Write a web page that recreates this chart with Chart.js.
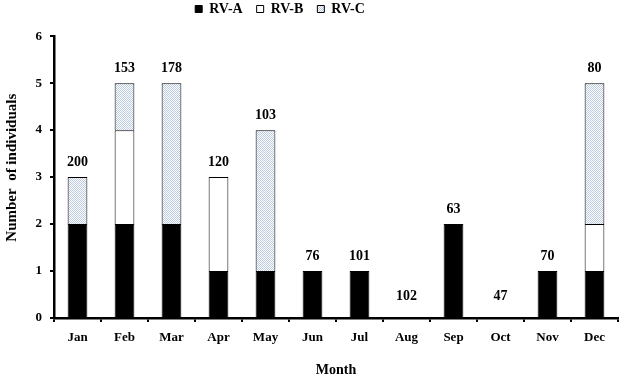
<!DOCTYPE html>
<html>
<head>
<meta charset="utf-8">
<script src="https://cdn.jsdelivr.net/npm/chart.js@4/dist/chart.umd.min.js"></script>
<style>
html,body{margin:0;padding:0;background:#fff;}
#wrap{width:623px;height:379px;position:relative;}
</style>
</head>
<body>
<div id="wrap"><canvas id="c"></canvas></div>
<script>
const months = ['Jan','Feb','Mar','Apr','May','Jun','Jul','Aug','Sep','Oct','Nov','Dec'];
const rvA = [2,2,2,1,1,1,1,0,2,0,1,1];
const rvB = [0,2,0,2,0,0,0,0,0,0,0,1];
const rvC = [1,1,3,0,3,0,0,0,0,0,0,3];
const totalsLabels = [200,153,178,120,103,76,101,102,63,47,70,80];

function makePattern(){
  const p = document.createElement('canvas');
  p.width = 2; p.height = 2;
  const g = p.getContext('2d');
  g.fillStyle = '#ffffff'; g.fillRect(0,0,2,2);
  g.fillStyle = '#bccbe2';
  g.fillRect(0,0,1,1);
  g.fillRect(1,1,1,1);
  return document.getElementById('c').getContext('2d').createPattern(p,'repeat');
}
const dotPattern = makePattern();

const FONT = "'Liberation Serif','Times New Roman',serif";

const topLabels = {
  id:'topLabels',
  afterDatasetsDraw(chart){
    const ctx = chart.ctx;
    const y = chart.scales.y;
    const meta = chart.getDatasetMeta(0);
    ctx.save();
    ctx.font = 'bold 14px ' + FONT;
    ctx.fillStyle = '#000';
    ctx.textAlign = 'center';
    ctx.textBaseline = 'middle';
    months.forEach((m,i)=>{
      const tot = rvA[i]+rvB[i]+rvC[i];
      const x = meta.data[i].x;
      const yy = y.getPixelForValue(tot) - (tot === 0 ? 22 : 15);
      ctx.fillText(String(totalsLabels[i]), x, yy);
    });
    ctx.restore();
  }
};

const legendShift = {
  id:'legendShift',
  afterLayout(chart){
    if (chart.legend) {
      chart.legend.left -= 29;
      chart.legend.right -= 29;
    }
  }
};

new Chart(document.getElementById('c'), {
  type:'bar',
  data:{
    labels: months,
    datasets:[
      {label:'RV-A', data: rvA, backgroundColor:'#000', borderColor:'#000', borderWidth:1},
      {label:'RV-B', data: rvB, backgroundColor:'#fff', borderColor:'#000', borderWidth:1},
      {label:'RV-C', data: rvC, backgroundColor: dotPattern, borderColor:'#000', borderWidth:1}
    ]
  },
  options:{
    responsive:true,
    maintainAspectRatio:false,
    animation:false,
    devicePixelRatio:1,
    layout:{padding:{left:0,right:5,top:-12,bottom:0}},
    datasets:{bar:{categoryPercentage:1, barPercentage:0.42}},
    plugins:{
      legend:{
        position:'top',
        align:'center',
        labels:{
          boxWidth:7, boxHeight:7,
          color:'#000',
          font:{family:FONT, size:14, weight:'bold'},
          padding:14
        }
      },
      title:{
        display:true,
        text:' ',
        weight:500,
        font:{size:1},
        padding:{top:5,bottom:4}
      },
      tooltip:{enabled:false}
    },
    scales:{
      x:{
        stacked:true,
        grid:{display:true, drawOnChartArea:false, drawTicks:true, tickLength:4, color:'#000', lineWidth:2, offset:true},
        border:{display:true, color:'#000', width:2.5},
        ticks:{color:'#000', font:{family:FONT, size:13, weight:'bold'}, padding:8, maxRotation:0},
        title:{display:true, text:'Month', color:'#000', font:{family:FONT, size:14, weight:'bold'}, padding:{top:0,bottom:0}},
        afterFit(s){ s.height = 61; }
      },
      y:{
        stacked:true,
        min:0, max:6,
        grid:{display:true, drawOnChartArea:false, drawTicks:true, tickLength:4, color:'#000', lineWidth:2},
        border:{display:true, color:'#000', width:2.5},
        ticks:{stepSize:1, color:'#000', font:{family:FONT, size:13, weight:'bold'}, padding:8},
        title:{display:true, text:'     Number  of individuals', color:'#000', font:{family:FONT, size:15, weight:'bold'}, padding:{top:3,bottom:0}},
        afterFit(s){ s.width = 54; }
      }
    }
  },
  plugins:[topLabels, legendShift]
});
</script>
</body>
</html>
